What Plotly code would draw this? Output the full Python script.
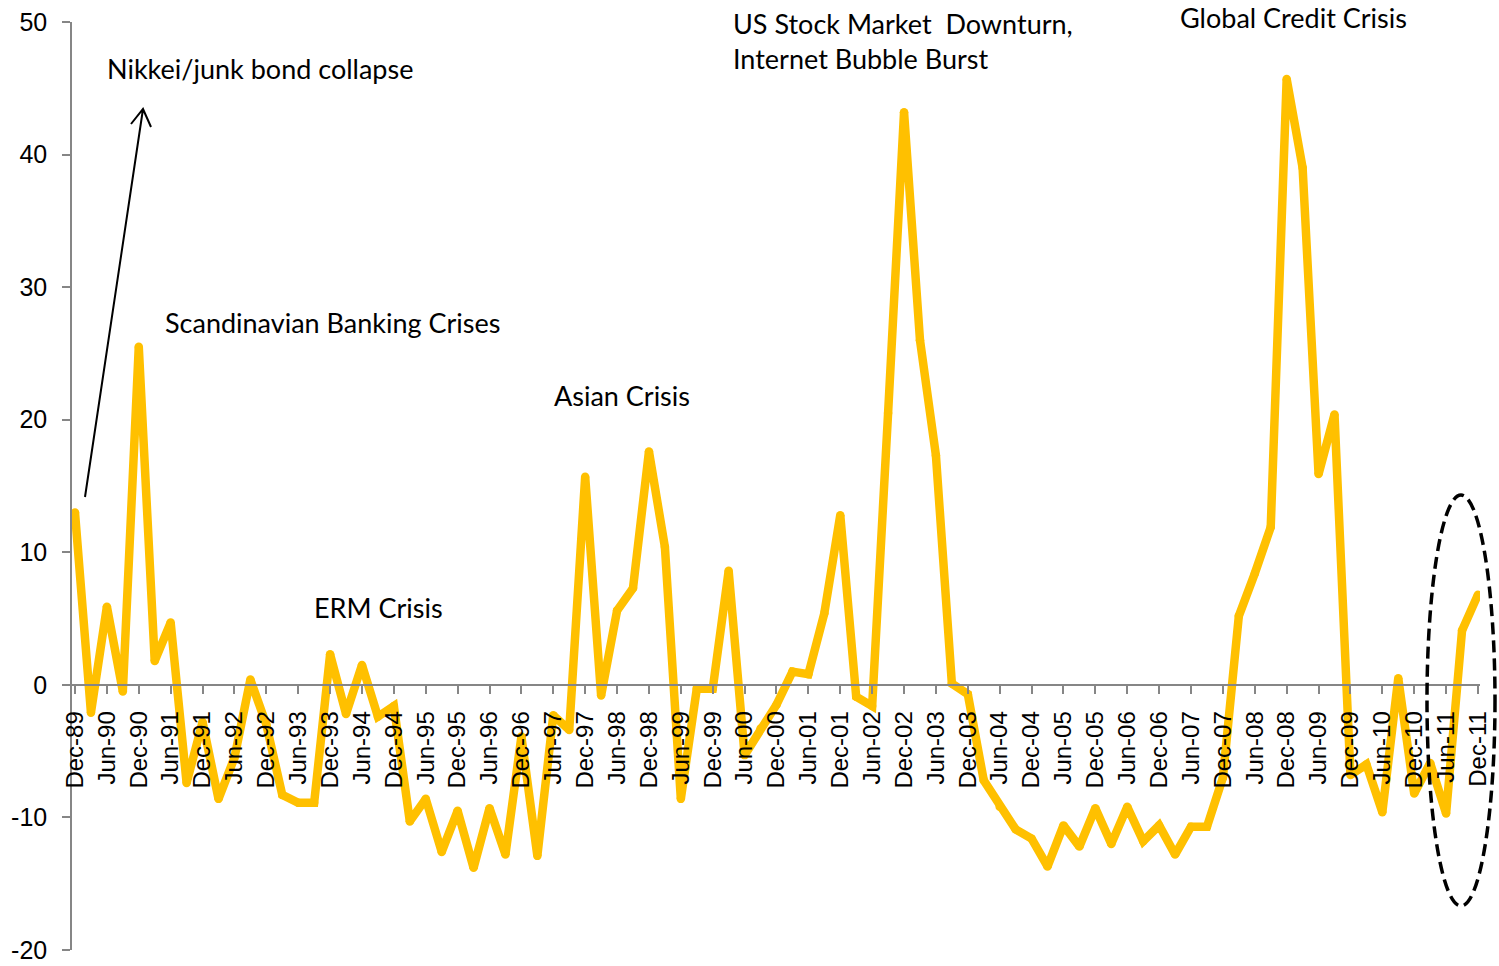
import plotly.graph_objects as go

# ---- data ----
month_names = ["Jan", "Feb", "Mar", "Apr", "May", "Jun", "Jul", "Aug", "Sep", "Oct", "Nov", "Dec"]
quarters = []
for i in range(89):
    m = 11 + 3 * i
    quarters.append(f"{month_names[m % 12]}-{(1989 + m // 12) % 100:02d}")

values = [13.0, -2.1, 5.9, -0.5,
          25.5, 1.8, 4.7, -7.4,
          -2.8, -8.6, -5.5, 0.4,
          -3.0, -8.3, -8.9, -8.9,
          2.3, -2.2, 1.5, -2.4,
          -1.6, -10.3, -8.6, -12.6,
          -9.5, -13.8, -9.3, -12.8,
          -3.9, -12.9, -2.3, -3.4,
          15.7, -0.8, 5.6, 7.3,
          17.6, 10.4, -8.6, -0.3,
          -0.3, 8.6, -5.3, -3.3,
          -1.5, 1.0, 0.8, 5.4,
          12.8, -0.9, -1.6, 20.5,
          43.2, 26.0, 17.3, 0.1,
          -0.7, -7.2, -9.2, -10.9,
          -11.6, -13.7, -10.6, -12.2,
          -9.3, -12.0, -9.2, -11.8,
          -10.6, -12.8, -10.7, -10.7,
          -7.0, 5.2, 8.4, 11.9,
          45.7, 39.0, 15.9, 20.4,
          -6.8, -6.0, -9.6, 0.5,
          -8.2, -5.9, -9.7, 4.1, 6.8]

tick_labels = quarters[::2]
y_ticks = [-20, -10, 0, 10, 20, 30, 40, 50]
y_tick_text = ["-20", "-10", "0", "10", "20", "30", "40", "50"]

events = ["Nikkei/junk bond collapse", "Scandinavian Banking Crises", "ERM Crisis",
          "Asian Crisis", "US Stock Market\u00a0 Downturn,", "Internet Bubble Burst",
          "Global Credit Crisis"]

# ---- layout geometry (pixels) ----
W, H = 1499, 966
L, R, T, B = 72, 1480, 22, 950


def px(xp):
    return (xp - L) / (R - L)


def py(yp):
    return (B - yp) / (B - T)


event_pos = [(105, 69), (163, 322), (312, 607), (552, 395), (731, 23), (731, 58), (1178, 17)]

fig = go.Figure()
fig.add_trace(go.Scatter(
    x=quarters, y=values, mode="lines+markers",
    line=dict(color="#FFC000", width=8.5),
    marker=dict(color="#FFC000", size=8.5, line=dict(width=0)),
    hoverinfo="skip", showlegend=False,
))

step = 15.943
x0 = -3 / step
x1 = x0 + (R - L) / step

axis_color = "#868686"
fig.update_layout(
    width=W, height=H,
    margin=dict(l=L, r=W - R, t=T, b=H - B, pad=0, autoexpand=False),
    paper_bgcolor="white", plot_bgcolor="white",
    xaxis=dict(
        type="category", range=[x0, x1], automargin=False,
        tickmode="array", tickvals=tick_labels, ticktext=tick_labels,
        tickangle=-90, ticks="outside", ticklen=8, tickwidth=1.5, tickcolor=axis_color,
        showline=True, linecolor=axis_color, linewidth=1.5,
        showgrid=False, zeroline=False,
        anchor="free", position=20 / 70,
        tickfont=dict(family="Liberation Sans, Arial", size=24, color="black"),
        ticklabelstandoff=8,
    ),
    yaxis=dict(
        range=[-20, 50], automargin=False,
        tickmode="array", tickvals=y_ticks, ticktext=y_tick_text,
        ticks="outside", ticklen=8, tickwidth=1.5, tickcolor=axis_color,
        showline=True, linecolor=axis_color, linewidth=1.5,
        showgrid=False, zeroline=False,
        tickfont=dict(family="Liberation Sans, Arial", size=25, color="black"),
        ticklabelstandoff=10,
    ),
)

for text, (xp, yp) in zip(events, event_pos):
    fig.add_annotation(
        text=text, xref="paper", yref="paper", x=px(xp), y=py(yp),
        xanchor="left", yanchor="middle", showarrow=False,
        font=dict(family="Lato, Carlito, Calibri", size=27, color="black"),
    )

# arrow (open head)
tail, tip = (85, 497), (143, 109)
wing1, wing2 = (131, 124), (151, 127)
arrow_path = (f"M {px(tail[0])} {py(tail[1])} L {px(tip[0])} {py(tip[1])} "
              f"M {px(wing1[0])} {py(wing1[1])} L {px(tip[0])} {py(tip[1])} "
              f"L {px(wing2[0])} {py(wing2[1])}")
fig.add_shape(type="path", xref="paper", yref="paper", path=arrow_path,
              line=dict(color="black", width=2))

# dashed ellipse
fig.add_shape(type="circle", xref="paper", yref="paper",
              x0=px(1427), x1=px(1495), y0=py(906), y1=py(495),
              line=dict(color="black", width=3.5, dash="12px,6px"))

fig.write_html("out.html")
